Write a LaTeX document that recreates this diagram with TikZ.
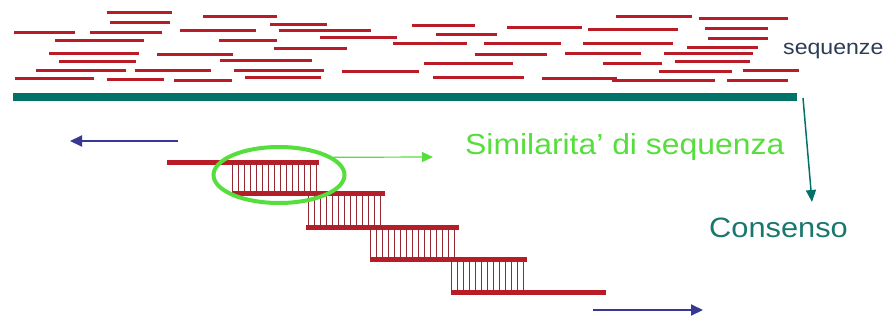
\documentclass[tikz,border=0pt]{standalone}
\usepackage{fontspec}
\setmainfont{Liberation Sans}
\usetikzlibrary{positioning,shapes.geometric,arrows.meta,calc}

\definecolor{readred}{RGB}{185,28,38}
\definecolor{tickred}{RGB}{150,40,50}
\definecolor{barteal}{RGB}{0,115,105}
\definecolor{arrblue}{RGB}{55,55,150}
\definecolor{simgreen}{RGB}{85,222,60}
\definecolor{constext}{RGB}{25,120,110}
\definecolor{seqtext}{RGB}{45,60,85}

\def\wide#1{\scalebox{1.1}[1]{#1}}

\begin{document}
\begin{tikzpicture}[x=1pt,y=-1pt,
  read/.style={readred,line width=3pt},
  strand/.style={readred,line width=5pt},
  pairing/.style={tickred,line width=0.8pt},
  label/.style={anchor=base west,inner sep=0pt}]
  \useasboundingbox (0,0) rectangle (887,322);
  % short reads
  \foreach \a/\b/\y in {107/172/12, 203/277/16, 110/170/22, 270/327/24, 14/75/32,
      90/162/32, 180/256/30, 279/371/30, 412/475/25, 55/144/40, 219/277/40,
      320/397/37, 436/497/34, 393/467/43, 274/347/48, 49/139/53, 157/233/54,
      59/136/61, 220/312/60, 424/513/63, 36/126/70, 135/211/70, 234/324/70,
      342/419/71, 15/94/78, 107/164/79, 174/232/80, 245/321/77, 433/524/77,
      616/692/16, 699/788/18, 507/582/27, 588/678/29, 705/768/28, 708/768/38,
      484/561/43, 583/673/43, 687/758/47, 475/547/54, 565/641/53, 664/753/53,
      603/662/63, 675/750/61, 659/732/71, 743/799/70, 542/617/78, 612/715/80,
      727/788/80} {
    \draw[read] (\a,\y) -- (\b,\y);
  }
  \node[label,text=seqtext,font=\fontsize{21}{21}\selectfont] (sequenze) at (783,54) {\wide{sequenze}};
  % reference sequence
  \fill[barteal] (13,93) rectangle (797,101);
  \coordinate (barend) at (803,98);
  % overlapping reads with pairings
  \foreach \a/\b/\y in {167/319/162, 233/385/193, 306/459/227, 370/527/259, 451/606/292} {
    \draw[strand] (\a,\y) -- (\b,\y);
  }
  \foreach \a/\b/\y/\z in {232/316/162/193, 308/385/193/227, 370/459/227/259, 451/523/259/292} {
    \foreach \x in {\a,...,\b} {
      \pgfmathparse{mod(\x-\a,6)==0}
      \ifnum\pgfmathresult=1 \draw[pairing] (\x,\y) -- (\x,\z); \fi
    }
  }
  \node[ellipse,draw=simgreen,line width=4pt,minimum width=131pt,minimum height=56pt] (match) at (279,175) {};
  \node[label,text=simgreen,font=\fontsize{29}{29}\selectfont] (simil) at (465,154) {\wide{Similarita' di sequenza}};
  \coordinate (simtip) at (433,157);
  \draw[simgreen,line width=1.2pt,-{Triangle[length=11pt,width=10pt]}] (match.18) -- (simtip);
  % consensus
  \node[label,text=constext,font=\fontsize{28}{28}\selectfont] (consenso) at (709,237) {\wide{Consenso}};
  \coordinate (constip) at (812,202);
  \draw[barteal,line width=1.5pt,-{Triangle[length=12pt,width=10pt]}] (barend) -- (constip);
  % directions of extension
  \coordinate (lefttail) at (178,141);
  \coordinate (lefthead) at (70,141);
  \coordinate (righttail) at (593,310);
  \coordinate (righthead) at (703,310);
  \draw[arrblue,line width=2pt,-{Triangle[length=12pt,width=11pt]}] (lefttail) -- (lefthead);
  \draw[arrblue,line width=2pt,-{Triangle[length=12pt,width=11pt]}] (righttail) -- (righthead);
\end{tikzpicture}
\end{document}
